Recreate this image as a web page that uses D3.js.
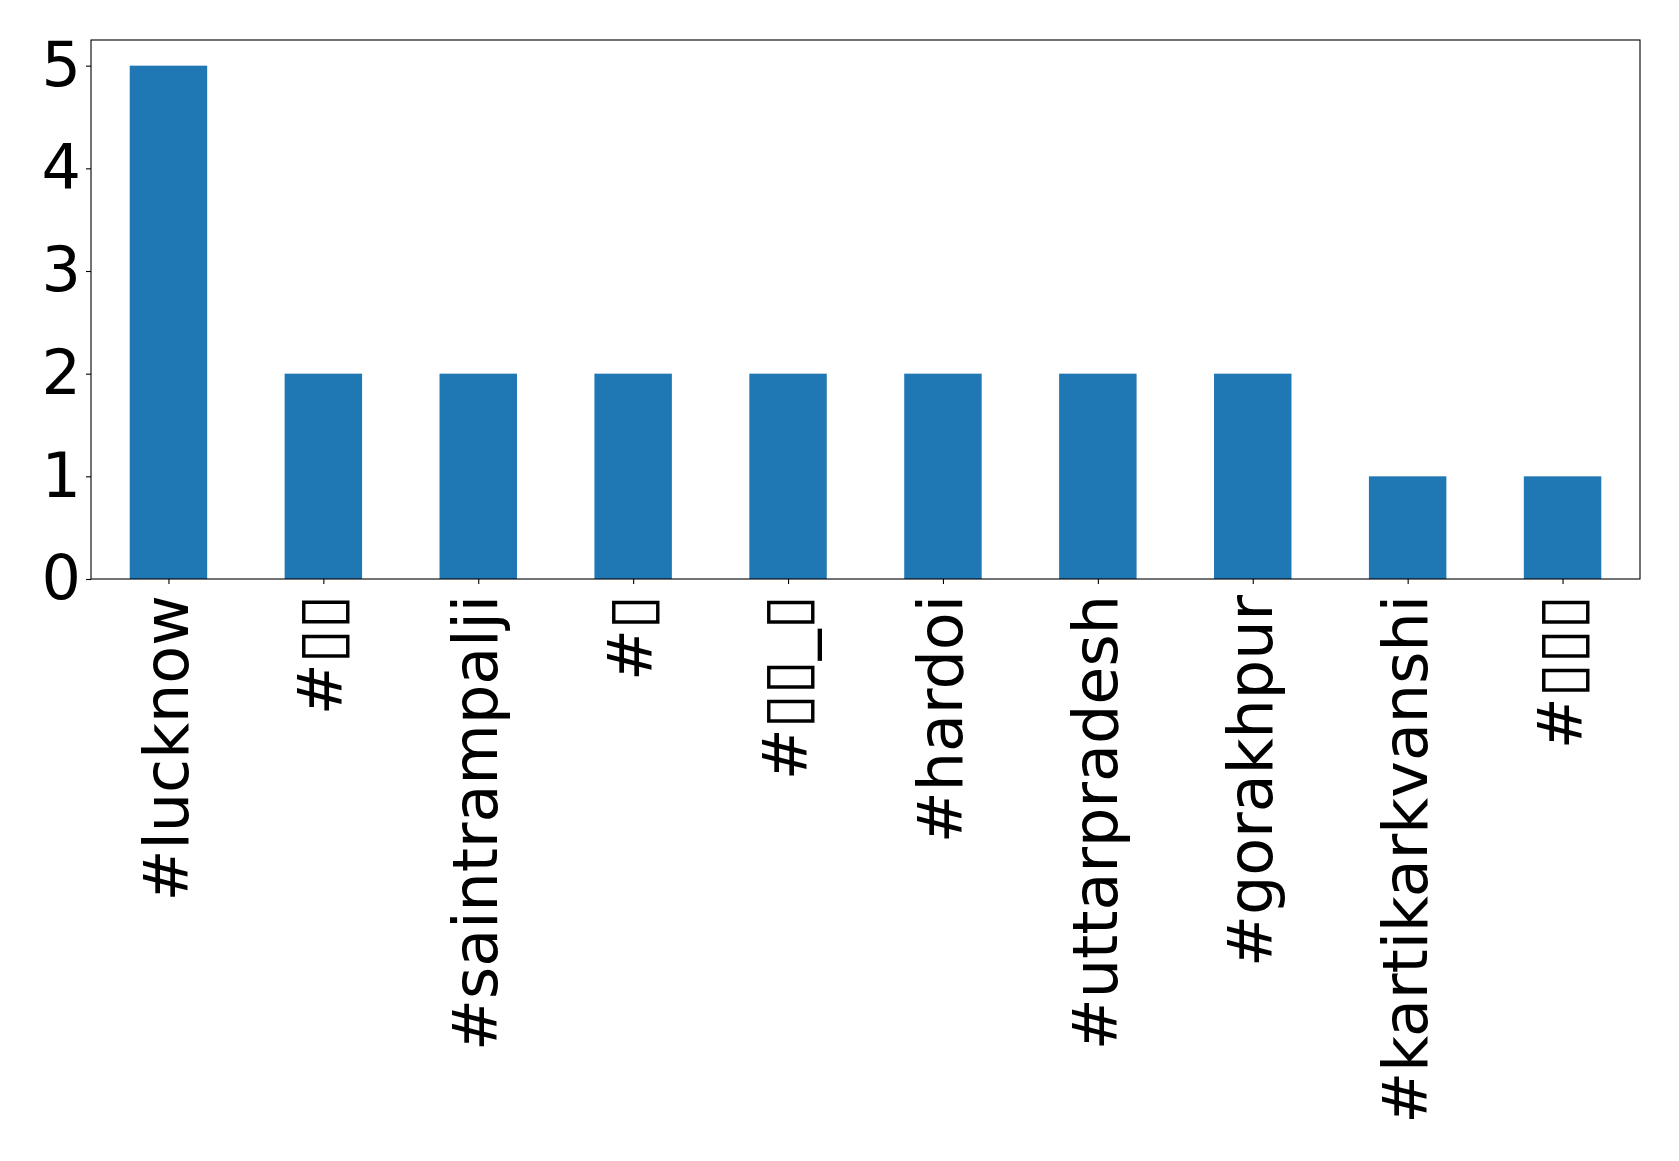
<!DOCTYPE html>
<html><head><meta charset="utf-8">
<script src="https://d3js.org/d3.v7.min.js"></script>
<style>body{margin:0;background:#fff}svg{display:block}</style>
</head><body>
<script>
const categories = ["#lucknow","#▯▯","#saintrampalji","#▯","#▯▯_▯","#hardoi","#uttarpradesh","#gorakhpur","#kartikarkvanshi","#▯▯▯"];
const values = [5,2,2,2,2,2,2,2,1,1];
const yTicks = [0,1,2,3,4,5];

const W=1679,H=1161;
const m={left:91,top:40,right:1640,bottom:579};
const svg=d3.select("body").append("svg").attr("width",W).attr("height",H);
const x=d3.scaleLinear().domain([-0.5,categories.length-0.5]).range([m.left,m.right]);
const y=d3.scaleLinear().domain([0,5.25]).range([m.bottom,m.top]);
const fs=62;

svg.selectAll("rect.bar").data(values).join("rect").attr("class","bar")
  .attr("x",(d,i)=>x(i-0.25)).attr("width",(d,i)=>x(i+0.25)-x(i-0.25))
  .attr("y",d=>y(d)).attr("height",d=>y(0)-y(d)).attr("fill","#1f77b4");

const ya=svg.append("g").attr("transform",`translate(${m.left},0)`)
  .call(d3.axisLeft(y).tickValues(yTicks).tickFormat(d3.format("d")).tickSize(5).tickPadding(5));
ya.select(".domain").remove();
ya.selectAll("text").attr("font-family","DejaVu Sans").attr("font-size",fs).attr("fill","#000");
ya.selectAll("line").attr("stroke","#000").attr("stroke-width",1.1);

const xa=svg.append("g").attr("transform",`translate(0,${m.bottom})`)
  .call(d3.axisBottom(x).tickValues(d3.range(categories.length)).tickFormat(i=>categories[i]).tickSize(5).tickPadding(5));
xa.select(".domain").remove();
xa.selectAll("line").attr("stroke","#000").attr("stroke-width",1.1);
xa.selectAll("text").attr("font-family","DejaVu Sans").attr("font-size",fs).attr("fill","#000")
  .attr("transform","rotate(-90)").attr("text-anchor","end")
  .attr("x",-16).attr("y",0).attr("dy","0.3em");

svg.append("rect").attr("x",m.left).attr("y",m.top).attr("width",m.right-m.left).attr("height",m.bottom-m.top)
  .attr("fill","none").attr("stroke","#000").attr("stroke-width",1.1);
</script>
</body></html>
